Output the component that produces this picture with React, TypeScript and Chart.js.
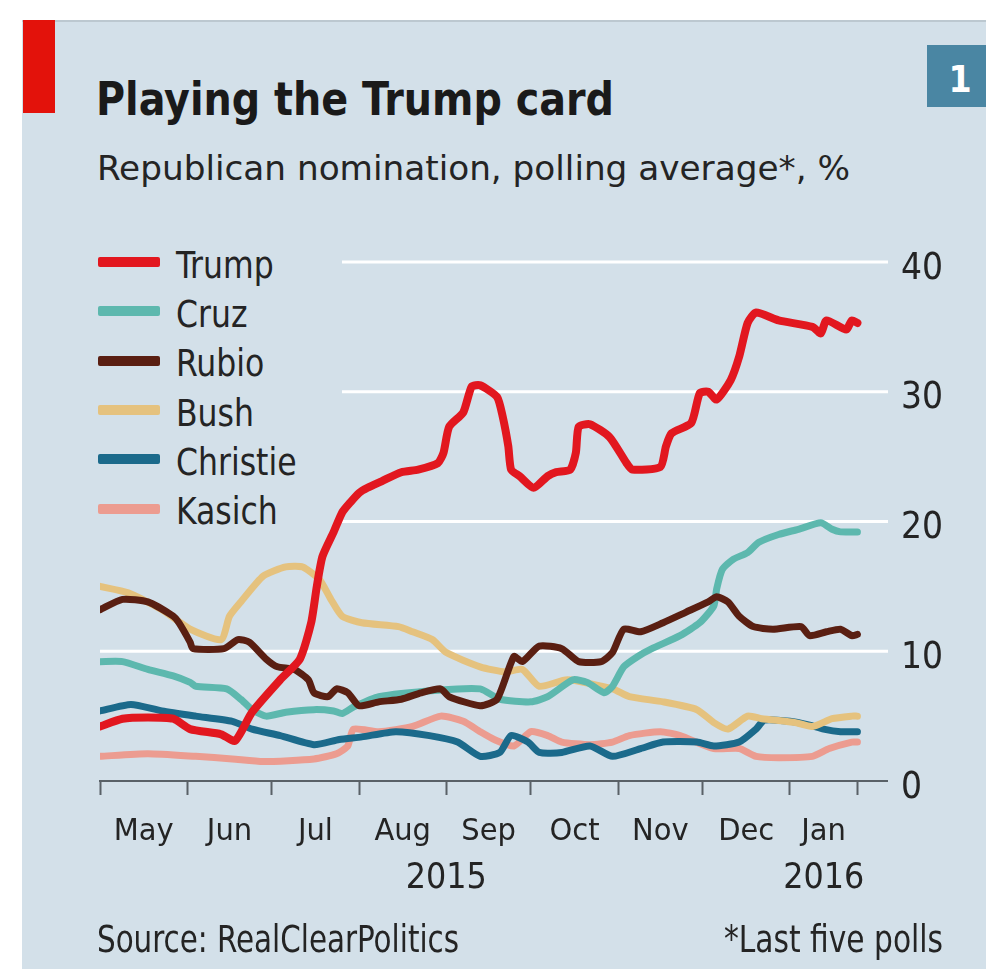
import React, { useEffect, useRef } from 'react';
import { Chart, registerables } from 'chart.js';

Chart.register(...registerables);

// x values: days since 1 May 2015
const monthBoundaries = [0, 31, 61, 92, 123, 153, 184, 214, 245, 269];
const monthLabels = ['May', 'Jun', 'Jul', 'Aug', 'Sep', 'Oct', 'Nov', 'Dec', 'Jan'];
const yearLabels = ['2015', '2016'];
const yearLabelDays = [123, 257];
const yTicks = [0, 10, 20, 30, 40];

const seriesNames = ['Trump', 'Cruz', 'Rubio', 'Bush', 'Christie', 'Kasich'];
const seriesColors = ['#e2171f', '#5db8ae', '#5a1f12', '#e5c27e', '#1b6a8b', '#ec9c90'];

const trump: [number, number][] = [
  [0, 4.2], [8, 4.8], [17, 4.9], [26, 4.8], [32, 4.0], [43, 3.6], [48, 3.1], [54, 5.3], [64, 7.8],
  [71, 9.4], [75, 12.2], [77, 15.0], [79, 17.3], [83, 19.2], [86, 20.7], [89, 21.5], [92, 22.2],
  [95, 22.6], [100, 23.1], [107, 23.8], [113, 24.0], [120, 24.5], [122, 25.3], [124, 27.3],
  [129, 28.4], [132, 30.4], [135, 30.5], [141, 29.6], [143, 28.1], [145, 25.8], [146, 24.0],
  [149, 23.5], [154, 22.6], [159, 23.5], [162, 23.8], [167, 24.0], [169, 25.3], [170, 27.3],
  [174, 27.5], [181, 26.5], [187, 24.5], [189, 24.0], [199, 24.2], [201, 25.8], [203, 26.8],
  [210, 27.6], [213, 29.9], [216, 30.0], [219, 29.4], [224, 30.9], [227, 32.7], [230, 35.3],
  [233, 36.1], [241, 35.5], [253, 35.0], [256, 34.5], [258, 35.5], [265, 34.8], [267, 35.5], [269, 35.3],
];
const cruz: [number, number][] = [
  [0, 9.2], [8, 9.2], [17, 8.6], [26, 8.1], [32, 7.6], [34, 7.3], [45, 7.1], [50, 6.3], [54, 5.5],
  [59, 5.0], [66, 5.3], [76, 5.5], [83, 5.4], [86, 5.2], [90, 5.7], [99, 6.5], [120, 7.0], [135, 7.1],
  [142, 6.3], [153, 6.1], [159, 6.5], [168, 7.8], [173, 7.6], [179, 6.8], [182, 7.3], [186, 8.8],
  [191, 9.6], [196, 10.2], [206, 11.2], [213, 12.2], [218, 13.5], [219, 14.8], [221, 16.3],
  [225, 17.1], [230, 17.6], [234, 18.4], [241, 19.0], [248, 19.4], [256, 19.9], [260, 19.4],
  [263, 19.2], [269, 19.2],
];
const rubio: [number, number][] = [
  [0, 13.2], [8, 14.0], [17, 13.8], [26, 12.7], [28, 12.2], [32, 10.7], [33, 10.2], [44, 10.2],
  [49, 10.9], [53, 10.7], [59, 9.4], [63, 8.8], [69, 8.6], [74, 7.8], [76, 6.8], [81, 6.5], [84, 7.1],
  [88, 6.8], [92, 5.8], [99, 6.1], [107, 6.3], [114, 6.8], [121, 7.1], [124, 6.5], [135, 5.8],
  [141, 6.3], [147, 9.6], [150, 9.2], [156, 10.4], [164, 10.2], [170, 9.2], [178, 9.2], [182, 9.9],
  [186, 11.7], [192, 11.5], [200, 12.2], [208, 13.0], [216, 13.8], [219, 14.2], [223, 13.8],
  [227, 12.7], [232, 11.9], [239, 11.7], [249, 11.9], [252, 11.2], [258, 11.5], [263, 11.7],
  [267, 11.2], [269, 11.3],
];
const bush: [number, number][] = [
  [0, 15.0], [10, 14.5], [22, 13.2], [32, 11.7], [43, 10.9], [46, 12.7], [50, 13.8], [58, 15.8],
  [66, 16.5], [72, 16.5], [78, 15.5], [82, 14.0], [86, 12.7], [93, 12.2], [106, 11.9], [111, 11.5],
  [118, 10.9], [123, 9.9], [135, 8.8], [144, 8.4], [150, 8.6], [156, 7.3], [166, 7.8], [182, 7.1],
  [188, 6.5], [200, 6.1], [212, 5.5], [218, 4.5], [223, 4.0], [230, 5.0], [235, 4.8], [247, 4.5],
  [253, 4.2], [260, 4.8], [267, 5.0], [269, 5.0],
];
const christie: [number, number][] = [
  [0, 5.4], [11, 5.9], [22, 5.4], [34, 5.0], [47, 4.6], [54, 4.0], [64, 3.5], [76, 2.8], [85, 3.2],
  [93, 3.4], [105, 3.8], [117, 3.5], [127, 3.0], [135, 1.9], [142, 2.2], [146, 3.5], [152, 3.0],
  [156, 2.2], [164, 2.2], [174, 2.7], [182, 1.9], [192, 2.5], [200, 3.0], [212, 3.0], [218, 2.7],
  [227, 3.0], [233, 4.0], [236, 4.7], [245, 4.6], [252, 4.3], [257, 4.0], [263, 3.8], [269, 3.8],
];
const kasich: [number, number][] = [
  [0, 1.9], [17, 2.1], [34, 1.9], [47, 1.7], [58, 1.5], [76, 1.7], [84, 2.1], [88, 2.7], [90, 4.0],
  [99, 3.8], [111, 4.2], [121, 5.0], [129, 4.6], [135, 3.8], [140, 3.2], [147, 2.7], [153, 3.8],
  [159, 3.5], [164, 3.0], [174, 2.8], [182, 3.0], [188, 3.5], [199, 3.8], [206, 3.5], [218, 2.5],
  [227, 2.5], [233, 1.9], [241, 1.8], [253, 1.9], [259, 2.5], [267, 3.0], [269, 3.0],
];
const seriesData = [trump, cruz, rubio, bush, christie, kasich];
const drawOrder = [0, 2, 1, 3, 4, 5]; // lower = drawn on top

const FONT = '"DejaVu Sans Condensed", "DejaVu Sans", sans-serif';
const TEXT = '#242424';
const BG = '#d3e0e9';
const AXIS = '#596167';

let mctx: CanvasRenderingContext2D | null = null;
function measure(text: string, size: number, weight: string) {
  if (!mctx) mctx = document.createElement('canvas').getContext('2d');
  mctx!.font = `${weight} ${size}px ${FONT}`;
  return mctx!.measureText(text).width;
}

type TxtProps = {
  text: string; x: number; baseline: number; size: number; weight?: string;
  width?: number; scale?: number; align?: 'left' | 'right' | 'center'; color?: string;
};
function Txt({ text, x, baseline, size, weight = 'normal', width, scale, align = 'left', color = TEXT }: TxtProps) {
  const natural = measure(text, size, weight);
  const sx = width ? width / natural : scale ?? 1;
  const top = baseline - 0.846 * size;
  let left = x;
  if (align === 'right') left = x - natural * sx;
  if (align === 'center') left = x - (natural * sx) / 2;
  return (
    <div
      style={{
        position: 'absolute', left, top, fontFamily: FONT, fontSize: size, fontWeight: weight as any,
        lineHeight: `${size}px`, whiteSpace: 'nowrap', color, transform: `scaleX(${sx})`,
        transformOrigin: 'left top',
      }}
    >
      {text}
    </div>
  );
}

function drawScaled(ctx: CanvasRenderingContext2D, text: string, x: number, y: number, sx: number, align: 'left' | 'center') {
  ctx.save();
  ctx.translate(x, y);
  ctx.scale(sx, 1);
  ctx.textAlign = align;
  ctx.textBaseline = 'alphabetic';
  ctx.fillText(text, 0, 0);
  ctx.restore();
}

const gridPlugin = {
  id: 'customGrid',
  beforeDatasetsDraw(chart: any) {
    const { ctx, chartArea, scales } = chart;
    const y = scales.y;
    ctx.save();
    ctx.strokeStyle = '#ffffff';
    ctx.lineWidth = 3;
    y.ticks.forEach((t: any) => {
      if (t.value === 0) return;
      const py = y.getPixelForValue(t.value);
      const x0 = t.value <= 10 ? chartArea.left : 342;
      ctx.beginPath();
      ctx.moveTo(x0, py);
      ctx.lineTo(chartArea.right + 1, py);
      ctx.stroke();
    });
    ctx.restore();
  },
};

const labelPlugin = {
  id: 'axisLabels',
  afterDraw(chart: any) {
    const { ctx, chartArea, scales } = chart;
    const x = scales.x;
    const y = scales.y;
    ctx.save();
    ctx.fillStyle = TEXT;

    // y-axis tick labels (right side)
    ctx.font = `37px ${FONT}`;
    const ySx = 42 / ctx.measureText('40').width;
    y.ticks.forEach((t: any) => {
      drawScaled(ctx, String(t.value), chartArea.right + 14, y.getPixelForValue(t.value) + 16.5, ySx, 'left');
    });

    // month labels, centred between month boundaries
    ctx.font = `30px ${FONT}`;
    const natural = monthLabels.reduce((a, m) => a + ctx.measureText(m).width, 0);
    const mSx = 459 / natural;
    x.ticks.forEach((t: any, i: number) => {
      if (i % 2 === 1) {
        drawScaled(ctx, monthLabels[(i - 1) / 2], x.getPixelForValue(t.value), x.top + 59, mSx, 'center');
      }
    });

    // year labels
    ctx.font = `36px ${FONT}`;
    const yrSx = 81 / ctx.measureText('2015').width;
    yearLabels.forEach((t, i) => drawScaled(ctx, t, x.getPixelForValue(yearLabelDays[i]), x.top + 107, yrSx, 'center'));
    ctx.restore();
  },
};

function App() {
  const ref = useRef<HTMLCanvasElement | null>(null);

  useEffect(() => {
    if (!ref.current) return;
    const chart = new Chart(ref.current, {
      type: 'line',
      data: {
        datasets: seriesNames.map((name, i) => ({
          label: name,
          data: seriesData[i].map(([x, y]) => ({ x, y })),
          borderColor: seriesColors[i],
          backgroundColor: seriesColors[i],
          borderWidth: i === 0 ? 8 : 7,
          pointRadius: 0,
          tension: 0.2,
          borderJoinStyle: 'round',
          borderCapStyle: 'round',
          order: drawOrder[i],
          fill: false,
        })),
      },
      options: {
        animation: false,
        responsive: false,
        maintainAspectRatio: false,
        devicePixelRatio: 1,
        events: [],
        layout: { padding: { left: 100, top: 262, right: 39, bottom: 128 } },
        plugins: { legend: { display: false }, tooltip: { enabled: false }, title: { display: false } },
        scales: {
          x: {
            type: 'linear',
            position: 'bottom',
            min: 0,
            max: 279.5,
            afterFit: (s: any) => { s.height = 60; },
            afterBuildTicks: (s: any) => {
              const t: { value: number }[] = [];
              monthBoundaries.forEach((d, i) => {
                t.push({ value: d });
                if (i < monthBoundaries.length - 1) t.push({ value: (d + monthBoundaries[i + 1]) / 2 });
              });
              s.ticks = t;
            },
            grid: {
              display: true,
              drawOnChartArea: false,
              drawTicks: true,
              tickLength: 14,
              tickWidth: 2,
              tickColor: (c: any) => (c.index % 2 === 0 ? AXIS : 'rgba(0,0,0,0)'),
            },
            border: { display: true, color: AXIS, width: 2 },
            ticks: { display: false, autoSkip: false, maxRotation: 0, minRotation: 0 },
          },
          y: {
            type: 'linear',
            position: 'right',
            min: 0,
            max: 40,
            afterFit: (s: any) => { s.width = 60; },
            afterBuildTicks: (s: any) => { s.ticks = yTicks.map((v) => ({ value: v })); },
            grid: { display: false },
            border: { display: false },
            ticks: { display: false },
          },
        },
      } as any,
      plugins: [gridPlugin, labelPlugin],
    });
    return () => chart.destroy();
  }, []);

  const legendNatural = seriesNames.reduce((a, n) => a + measure(n, 37, 'normal'), 0);
  const legendScale = 558 / legendNatural;

  return (
    <div style={{ position: 'absolute', left: 0, top: 0, width: 986, height: 969, overflow: 'hidden', background: '#ffffff' }}>
      <div style={{ position: 'absolute', left: 22, top: 20, right: 0, bottom: 0, background: BG, borderTop: '2px solid #bcc8d0' }} />
      <div style={{ position: 'absolute', left: 23, top: 20, width: 32, height: 93, background: '#e3120b' }} />
      <div style={{ position: 'absolute', left: 927, top: 45, width: 59, height: 62, background: '#4a86a3' }} />
      <Txt text="1" x={960} baseline={92} size={37} weight="bold" align="center" color="#ffffff" />
      <Txt text="Playing the Trump card" x={96} baseline={115} size={46} weight="bold" width={518} color="#1a1a1a" />
      <Txt text="Republican nomination, polling average*, %" x={97} baseline={180} size={34} width={753} />
      {seriesNames.map((n, i) => {
        const c = 262 + i * 49.3;
        return (
          <React.Fragment key={n}>
            <div style={{ position: 'absolute', left: 98, top: c - 5, width: 62, height: 10, background: seriesColors[i], borderRadius: 2 }} />
            <Txt text={n} x={176} baseline={c + 16} size={37} scale={legendScale} />
          </React.Fragment>
        );
      })}
      <canvas ref={ref} width={986} height={969} style={{ position: 'absolute', left: 0, top: 0, width: 986, height: 969 }} />
      <Txt text="Source: RealClearPolitics" x={97} baseline={952} size={37} width={362} />
      <Txt text="*Last five polls" x={943} baseline={952} size={37} width={219} align="right" />
    </div>
  );
}

export default App;
